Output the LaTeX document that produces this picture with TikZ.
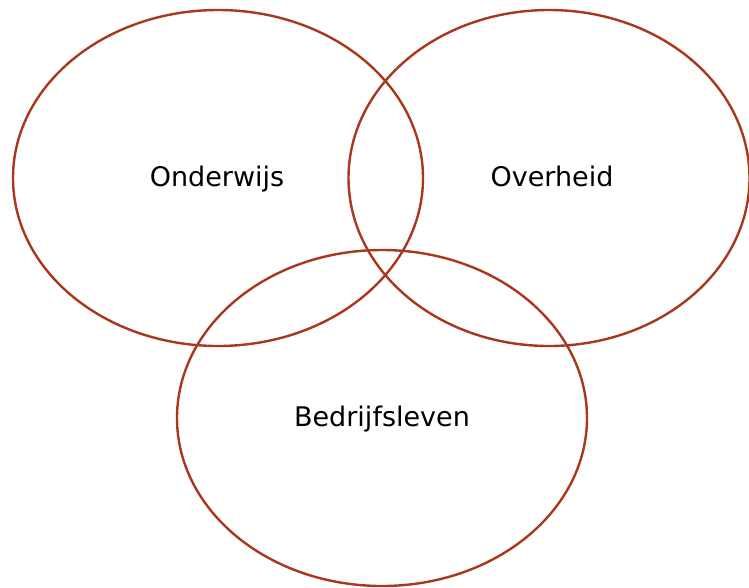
\documentclass[tikz,border=0pt]{standalone}
\usepackage{fontspec}
\setmainfont{DejaVu Sans}
\usepackage{tikz}
\usetikzlibrary{positioning}
\definecolor{rimc}{HTML}{A8371C}
\tikzset{
  rim/.style={draw=rimc,line width=2.4pt},
  lbl/.style={font=\fontsize{27}{31}\selectfont,text=black,anchor=base}
}

\begin{document}
\begin{tikzpicture}[x=1pt,y=-1pt]
\useasboundingbox (0,0) rectangle (749,587);
\draw[rim] (218,178) ellipse [x radius=205,y radius=168];
\draw[rim] (549,178) ellipse [x radius=200.5,y radius=168];
\draw[rim] (382,418) ellipse [x radius=205,y radius=168];
\node[lbl] (onderwijs) at (217,186) {Onderwijs};
\node[lbl] (overheid) at (552,186) {Overheid};
\node[lbl] (bedrijf) at (382,426) {Bedrijfsleven};
\end{tikzpicture}
\end{document}
